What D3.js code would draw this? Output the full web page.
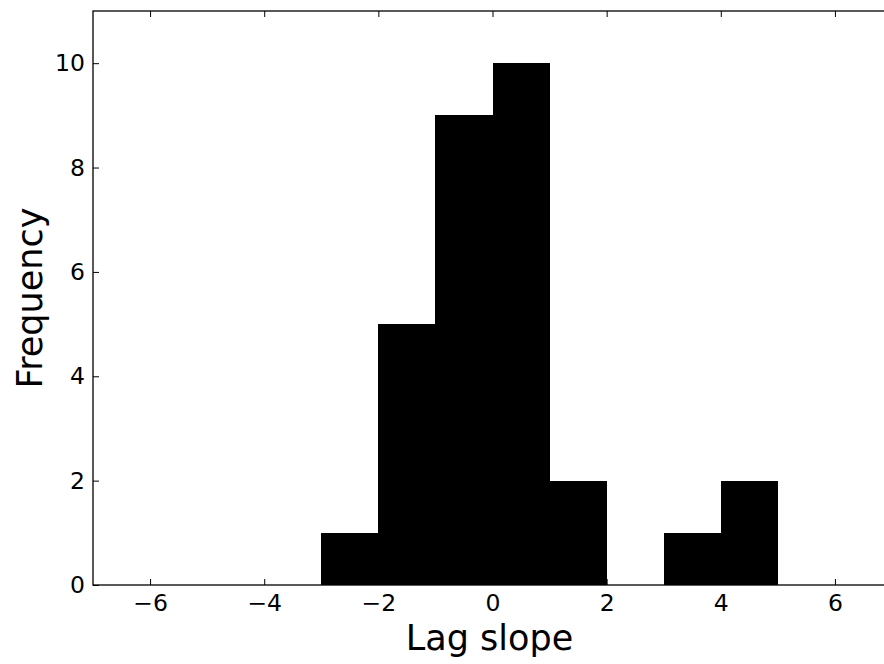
<!DOCTYPE html>
<html>
<head>
<meta charset="utf-8">
<script src="https://cdn.jsdelivr.net/npm/d3@7"></script>
<style>
  html, body { margin: 0; padding: 0; background: #fff; }
  svg { display: block; }
  text { font-family: "DejaVu Sans", sans-serif; fill: #000; }
</style>
</head>
<body>
<svg id="chart" width="884" height="664"></svg>
<script>
// histogram bins (left edge, width 1) and counts
const binStarts = [-3, -2, -1, 0, 1, 2, 3, 4];
const binWidth = 1;
const counts = [1, 5, 9, 10, 2, 0, 1, 2];
const xTicks = [-6, -4, -2, 0, 2, 4, 6];
const yTicks = [0, 2, 4, 6, 8, 10];
const xLabel = 'Lag slope';
const yLabel = 'Frequency';

const svg = d3.select('#chart');

// plot box (right edge runs just past the picture)
const plot = {left: 93, right: 892, top: 11, bottom: 585};

const x = d3.scaleLinear().domain([-7, 7]).range([plot.left, plot.right]);
const y = d3.scaleLinear().domain([0, 11]).range([plot.bottom, plot.top]);

const bins = binStarts.map((s, i) => ({x0: s, x1: s + binWidth, n: counts[i]}));

svg.append('g')
  .attr('shape-rendering', 'crispEdges')
  .selectAll('rect')
  .data(bins.filter(d => d.n > 0))
  .join('rect')
  .attr('x', d => x(d.x0))
  .attr('y', d => y(d.n))
  .attr('width', d => x(d.x1) - x(d.x0) + 0.5)
  .attr('height', d => y(0) - y(d.n))
  .attr('fill', '#000');

const tickLen = 6;
const fontTick = 23.5;

// inward ticks, matplotlib classic look
const xAxisB = d3.axisBottom(x).tickValues(xTicks).tickSizeInner(-tickLen).tickSizeOuter(0)
  .tickFormat(d => d3.format('')(d).replace('-', '\u2212'));
const xAxisT = d3.axisTop(x).tickValues(xTicks).tickSizeInner(-tickLen).tickSizeOuter(0).tickFormat('');
const yAxisL = d3.axisLeft(y).tickValues(yTicks).tickSizeInner(-tickLen).tickSizeOuter(0);
const yAxisR = d3.axisRight(y).tickValues(yTicks).tickSizeInner(-tickLen).tickSizeOuter(0).tickFormat('');

function style (g) {
  g.select('.domain').remove();
  g.selectAll('.tick line').attr('stroke', '#000').attr('stroke-width', 1);
  g.selectAll('.tick text').attr('font-size', fontTick).attr('font-family', '"DejaVu Sans", sans-serif');
}

svg.append('g').attr('transform', `translate(0,${plot.bottom})`).call(xAxisB).call(style)
  .selectAll('.tick text').attr('dy', null).attr('y', 26);
svg.append('g').attr('transform', `translate(0,${plot.top})`).call(xAxisT).call(style);
svg.append('g').attr('transform', `translate(${plot.left},0)`).call(yAxisL).call(style)
  .selectAll('.tick text').attr('x', -8);
svg.append('g').attr('transform', `translate(${plot.right},0)`).call(yAxisR).call(style);

// frame
svg.append('rect')
  .attr('x', plot.left)
  .attr('y', plot.top)
  .attr('width', plot.right - plot.left)
  .attr('height', plot.bottom - plot.top)
  .attr('fill', 'none')
  .attr('stroke', '#000')
  .attr('stroke-width', 1.3);

svg.append('text')
  .attr('x', (plot.left + plot.right) / 2 - 3)
  .attr('y', 650)
  .attr('text-anchor', 'middle')
  .attr('font-size', 35)
  .text(xLabel);

svg.append('text')
  .attr('transform', `translate(42,${(plot.top + plot.bottom) / 2}) rotate(-90)`)
  .attr('text-anchor', 'middle')
  .attr('font-size', 35)
  .text(yLabel);
</script>
</body>
</html>
